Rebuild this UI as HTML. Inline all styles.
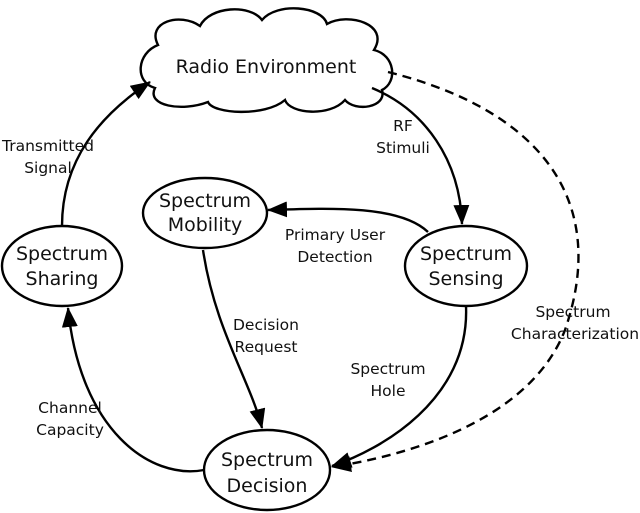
<!DOCTYPE html>
<html><head><style>
html,body{margin:0;padding:0;background:#fff;width:640px;height:513px;overflow:hidden}
svg text{font-family:"DejaVu Sans","Liberation Sans",sans-serif;fill:#111}
</style></head><body>
<svg width="640" height="513" viewBox="0 0 640 513" xmlns="http://www.w3.org/2000/svg">
<defs>
<marker id="b" markerWidth="20" markerHeight="16" refX="19" refY="8" orient="auto" markerUnits="userSpaceOnUse" viewBox="0 0 20 16">
<path d="M0,0 L20,8 L0,16 z" fill="#000"/></marker>
</defs>
<g fill="none" stroke="#000" stroke-width="2.4">
<path d="M158,45 C146,22 180,12 200,26 C210,6 250,4 262,20 C277,2 322,6 327,24 C348,12 390,24 374,50 C395,55 398,82 382,90 C387,108 355,112 345,100 C330,117 290,114 285,100 C265,117 213,114 208,102 C182,112 146,106 155,88 C134,82 137,53 158,45 Z" fill="#fff"/>
<ellipse cx="205" cy="213" rx="62" ry="35"/>
<ellipse cx="466" cy="266" rx="61" ry="40"/>
<ellipse cx="62" cy="266" rx="60" ry="40"/>
<ellipse cx="267" cy="470" rx="63" ry="40"/>
<path d="M62,226 C62,160 100,115 150,82" marker-end="url(#b)"/>
<path d="M372,88 C425,110 460,160 462,224" marker-end="url(#b)"/>
<path d="M388,72 C540,110 610,200 565,330 C530,420 410,455 332,467" stroke-dasharray="9,6" marker-end="url(#b)"/>
<path d="M428,232 C400,205 330,208 268,210" marker-end="url(#b)"/>
<path d="M203,250 C215,330 250,380 262,428" marker-end="url(#b)"/>
<path d="M466,306 C470,400 380,450 332,466" marker-end="url(#b)"/>
<path d="M204,470 C150,480 80,430 68,308" marker-end="url(#b)"/>
</g>
<g font-size="19" text-anchor="middle">
<text x="266" y="73">Radio Environment</text>
<text x="205" y="207">Spectrum</text><text x="205" y="231">Mobility</text>
<text x="466" y="260">Spectrum</text><text x="466" y="285">Sensing</text>
<text x="62" y="260">Spectrum</text><text x="62" y="285">Sharing</text>
<text x="267" y="466">Spectrum</text><text x="267" y="492">Decision</text>
</g>
<g font-size="15.5" text-anchor="middle">
<text x="48" y="151">Transmitted</text><text x="48" y="173">Signal</text>
<text x="403" y="131">RF</text><text x="403" y="153">Stimuli</text>
<text x="335" y="240">Primary User</text><text x="335" y="262">Detection</text>
<text x="266" y="330">Decision</text><text x="266" y="352">Request</text>
<text x="388" y="374">Spectrum</text><text x="388" y="396">Hole</text>
<text x="70" y="413">Channel</text><text x="70" y="435">Capacity</text>
<text x="573" y="317">Spectrum</text><text x="575" y="339">Characterization</text>
</g>
</svg>
</body></html>
